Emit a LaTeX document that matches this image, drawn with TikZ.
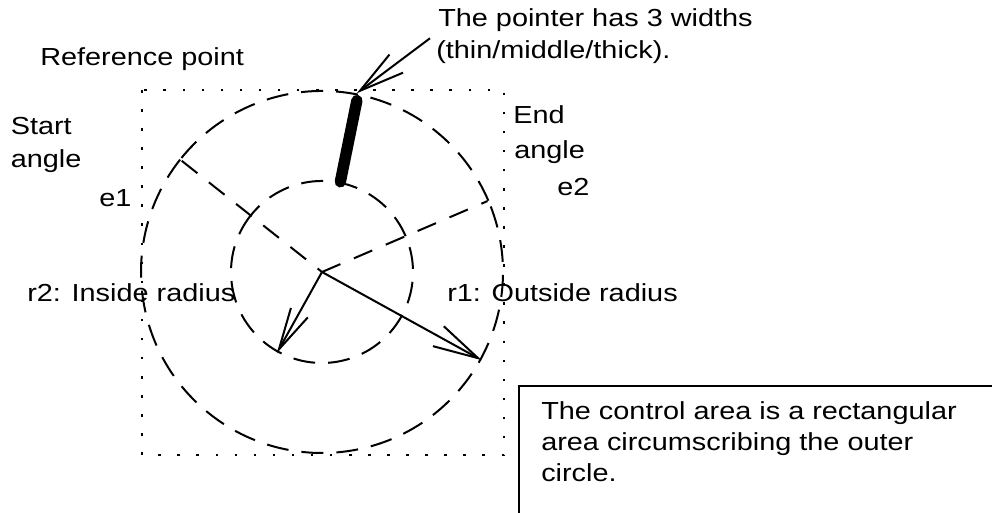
\documentclass[tikz,border=0pt]{standalone}
\usepackage{fontspec}
\setmainfont{Liberation Sans}[FakeStretch=1.17]
\usetikzlibrary{arrows.meta,calc}
\begin{document}
\begin{tikzpicture}[x=0.75pt,y=0.75pt,
  lbl/.style={anchor=base west,inner sep=0pt,font=\fontsize{18.5pt}{23.25pt}\selectfont},
  dashcirc/.style={line width=1.5pt,dash pattern=on 16.5pt off 9.75pt},
  dashrad/.style={line width=1.5pt,dash pattern=on 15pt off 11pt},
  dotbox/.style={line width=1.9pt,dash pattern=on 1.9pt off 12.4pt},
  arrin/.style={line width=1.5pt,-{Straight Barb[length=31.5pt,width=14.5pt,line width=1.5pt]}},
  arrout/.style={line width=1.5pt,-{Straight Barb[length=34pt,width=17pt,line width=1.5pt]}},
  ptr/.style={line width=8.5pt,line cap=round},
  frame/.style={line width=1.3pt}]
\useasboundingbox (0,0) rectangle (992,513);
% control area
\draw[dotbox] (142,423) rectangle (504,58);
\coordinate (c) at (322,241);
\begin{scope}[shift={(c)}]
  \coordinate (so) at (141.6:179);
  \coordinate (eo) at (23.2:180);
  \coordinate (ia) at (240.9:93);
  \coordinate (oa) at (-28.9:182.4);
  \coordinate (pin) at (78.5:92);
  \coordinate (pout) at (78.5:175);
  % circles
  \draw[dashcirc] (23.2:181) arc[start angle=23.2,end angle=141.6,radius=135.75pt];
  \draw[dashcirc] (141.6:181) arc[start angle=141.6,end angle=383.2,radius=135.75pt];
  \draw[dashcirc] (23.2:91) arc[start angle=23.2,end angle=141.6,radius=68.25pt];
  \draw[dashcirc] (141.6:91) arc[start angle=141.6,end angle=383.2,radius=68.25pt];
\end{scope}
\draw[dashrad] (so) -- (c);
\draw[dashrad] (c) -- (eo);
\draw[arrin] (c) -- (ia);
\draw[arrout] (c) -- (oa);
\draw[ptr] (pin) -- (pout);
\coordinate (ptip) at (356.7,419.7);
\coordinate (annot) at (430,474.7);
\draw[arrout] (annot) -- (ptip);
% labels
\node[lbl] (ref) at (40,447) {Reference point};
\node[lbl] (start1) at (10.5,378) {Start};
\node[lbl] (start2) at (10.5,345.7) {angle};
\node[lbl] (e1) at (99,306.3) {e1};
\node[lbl] (r2) at (27,211) {r2: Inside radius};
\node[lbl] (end1) at (513,389.7) {End};
\node[lbl] (end2) at (514,354.7) {angle};
\node[lbl] (e2) at (557,317) {e2};
\node[lbl] (r1) at (447,211) {r1: Outside radius};
\node[lbl] (pt1) at (438,486.3) {The pointer has 3 widths};
\node[lbl] (pt2) at (436,454.7) {(thin/middle/thick).};
\draw[frame] (519,-2) -- (519,127.3) -- (995,127.3);
\node[lbl] (b1) at (541,93.7) {The control area is a rectangular};
\node[lbl] (b2) at (541,62.3) {area circumscribing the outer};
\node[lbl] (b3) at (541,31.3) {circle.};
\end{tikzpicture}
\end{document}
